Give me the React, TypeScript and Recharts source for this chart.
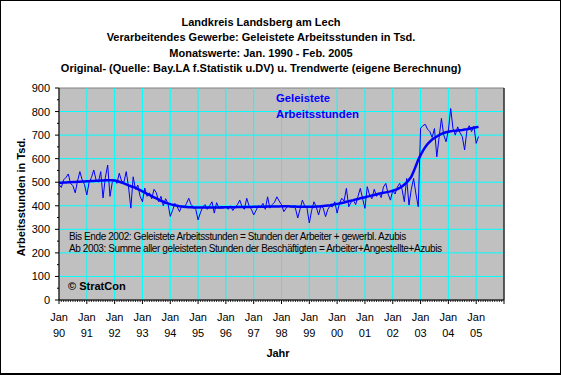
import React from 'react';
import { LineChart, Line, XAxis, YAxis, ReferenceLine, ReferenceArea } from 'recharts';

const titleLines = [
  'Landkreis Landsberg am Lech',
  'Verarbeitendes Gewerbe: Geleistete Arbeitsstunden in Tsd.',
  'Monatswerte: Jan. 1990 - Feb. 2005',
  'Original- (Quelle: Bay.LA f.Statistik u.DV) u. Trendwerte (eigene Berechnung)',
];
const noteLines = [
  'Bis Ende 2002: Geleistete Arbeitsstunden = Stunden der Arbeiter + gewerbl. Azubis',
  'Ab 2003: Summe aller geleisteten Stunden der Beschäftigten = Arbeiter+Angestellte+Azubis',
];
const monthLabel = 'Jan';
const yearLabels = ['90', '91', '92', '93', '94', '95', '96', '97', '98', '99', '00', '01', '02', '03', '04', '05'];
const yTicks = [0, 50, 100, 150, 200, 250, 300, 350, 400, 450, 500, 550, 600, 650, 700, 750, 800, 850, 900];
const gridValues = [100, 200, 300, 400, 500, 600, 700, 800];

// Monthly original values Jan 1990 - Feb 2005 (Tsd. Stunden)
const original = [
  490, 478, 510, 520, 535, 495, 485, 455, 505, 545, 510, 490,
  446, 500, 520, 552, 510, 500, 545, 433, 520, 573, 440, 500,
  510, 495, 538, 505, 500, 545, 480, 390, 523, 470, 488, 440,
  417, 475, 440, 455, 430, 470, 455, 417, 440, 400, 430, 410,
  355, 380, 410, 395, 375, 400, 390, 410, 432, 405, 395, 385,
  340, 370, 395, 405, 385, 400, 417, 369, 413, 390, 390, 390,
  395, 385, 400, 380, 395, 405, 424, 395, 385, 432, 400, 385,
  361, 380, 400, 395, 410, 385, 438, 390, 405, 415, 438, 420,
  405, 375, 390, 400, 395, 395, 390, 348, 385, 424, 400, 390,
  327, 380, 417, 395, 361, 400, 390, 354, 385, 400, 395, 417,
  369, 410, 432, 420, 474, 396, 415, 424, 405, 440, 474, 430,
  389, 481, 445, 430, 470, 440, 455, 435, 480, 495, 450, 424,
  465, 450, 480, 495, 470, 417, 516, 403, 470, 516, 450, 396,
  729, 740, 746, 725, 715, 690, 728, 608, 690, 771, 700, 672,
  720, 813, 728, 700, 735, 710, 694, 637, 720, 740, 715, 738,
  665, 694,
];

// Monthly trend values (own calculation)
const trend = [
  498, 498, 499, 499, 500, 500, 501, 501, 502, 502, 503, 503,
  504, 504, 505, 505, 506, 506, 507, 507, 508, 508, 508, 508,
  507, 505, 502, 498, 495, 491, 487, 483, 480, 476, 471, 466,
  461, 456, 451, 446, 441, 436, 431, 426, 421, 417, 413, 410,
  407, 404, 402, 400, 398, 397, 396, 395, 394, 394, 393, 393,
  393, 393, 393, 393, 393, 393, 393, 393, 393, 393, 394, 394,
  394, 394, 394, 394, 394, 395, 395, 395, 395, 395, 395, 395,
  396, 396, 396, 396, 396, 396, 397, 397, 397, 397, 397, 397,
  398, 398, 398, 398, 397, 397, 397, 396, 396, 396, 396, 396,
  396, 396, 396, 397, 397, 398, 399, 400, 401, 402, 404, 406,
  408, 410, 412, 414, 417, 419, 422, 424, 427, 429, 432, 434,
  436, 439, 441, 444, 446, 449, 451, 453, 455, 457, 459, 461,
  464, 467, 471, 476, 482, 490, 499, 510, 523, 545, 570, 595,
  615, 633, 649, 662, 672, 681, 688, 694, 700, 705, 709, 712,
  714, 716, 718, 719, 720, 721, 722, 724, 725, 727, 729, 731,
  733, 735,
];

const data = original.map((v, i) => ({ m: i, original: v, trend: trend[i] }));
const monthTicks = Array.from({ length: 193 }, (_, i) => i);
const janTicks = yearLabels.map((_, i) => i * 12).filter((v) => v > 0);

const FONT = '"Liberation Sans", Arial, sans-serif';

const XTick = (props: any) => {
  const { x, y, payload } = props;
  const v = payload.value as number;
  if (v % 12 === 0) {
    const idx = v / 12;
    return (
      <g>
        <line x1={x} x2={x} y1={y} y2={y + 4} stroke="#000" />
        {idx < yearLabels.length && (
          <>
            <text x={x} y={y + 21} textAnchor="middle" fontSize={11} fontFamily={FONT} fill="#000">{monthLabel}</text>
            <text x={x} y={y + 37} textAnchor="middle" fontSize={11} fontFamily={FONT} fill="#000">{yearLabels[idx]}</text>
          </>
        )}
      </g>
    );
  }
  return <line x1={x} x2={x} y1={y} y2={y + 2} stroke="#000" strokeWidth={0.8} />;
};

const LeftTick = (props: any) => {
  const { x, y, payload } = props;
  const v = payload.value as number;
  if (v % 100 === 0) {
    return (
      <g>
        <line x1={x - 4} x2={x} y1={y} y2={y} stroke="#000" />
        <text x={x - 9} y={y + 4} textAnchor="end" fontSize={11} fontFamily={FONT} fill="#000">{v}</text>
      </g>
    );
  }
  return <line x1={x - 2} x2={x} y1={y} y2={y} stroke="#000" />;
};

const RightTick = (props: any) => {
  const { x, y, payload } = props;
  const v = payload.value as number;
  if (v % 100 === 0) {
    return (
      <g>
        <line x1={x} x2={x + 4} y1={y} y2={y} stroke="#000" />
        <text x={x + 6} y={y + 4} textAnchor="start" fontSize={11} fontFamily={FONT} fill="#000">{v}</text>
      </g>
    );
  }
  return <line x1={x} x2={x + 2} y1={y} y2={y} stroke="#000" />;
};

const abs = (s: React.CSSProperties): React.CSSProperties => ({ position: 'absolute', whiteSpace: 'nowrap', fontFamily: FONT, ...s });

export default function App() {
  return (
    <div style={{ position: 'absolute', left: 0, top: 0, width: 561, height: 375, background: '#fff', overflow: 'hidden' }}>
      <LineChart width={561} height={375} data={data} margin={{ top: 88, right: 0, bottom: 0, left: 0 }}>
        <XAxis
          dataKey="m"
          type="number"
          domain={[0, 192]}
          ticks={monthTicks}
          interval={0}
          tick={<XTick />}
          tickLine={false}
          tickSize={0}
          tickMargin={0}
          height={75}
          axisLine={{ stroke: '#000' }}
          xAxisId="x"
        />
        <YAxis
          yAxisId="left"
          orientation="left"
          domain={[0, 900]}
          ticks={yTicks}
          interval={0}
          width={59}
          tick={<LeftTick />}
          tickLine={false}
          tickSize={0}
          tickMargin={0}
          axisLine={{ stroke: '#000' }}
        />
        <YAxis
          yAxisId="right"
          orientation="right"
          domain={[0, 900]}
          ticks={yTicks}
          interval={0}
          width={57}
          tick={<RightTick />}
          tickLine={false}
          tickSize={0}
          tickMargin={0}
          axisLine={{ stroke: '#000' }}
        />
        <ReferenceArea xAxisId="x" yAxisId="left" x1={0} x2={192} y1={0} y2={900} fill="#C0C0C0" fillOpacity={1} stroke="#808080" />
        {gridValues.map((g) => (
          <ReferenceLine key={'h' + g} xAxisId="x" yAxisId="left" y={g} stroke="#00FFFF" strokeWidth={1} />
        ))}
        {janTicks.map((t) => (
          <ReferenceLine key={'v' + t} xAxisId="x" yAxisId="left" x={t} stroke="#00FFFF" strokeWidth={1} />
        ))}
        <Line xAxisId="x" yAxisId="left" type="linear" dataKey="original" stroke="#0000FF" strokeWidth={1} dot={false} isAnimationActive={false} />
        <Line xAxisId="x" yAxisId="left" type="linear" dataKey="trend" stroke="#0000FF" strokeWidth={2.5} dot={false} isAnimationActive={false} />
      </LineChart>

      {titleLines.map((t, i) => (
        <div key={t} style={abs({ left: 0, width: 522, top: 15 + i * 15.4, lineHeight: '15px', textAlign: 'center', fontSize: 11, fontWeight: 'bold', color: '#000' })}>{t}</div>
      ))}

      <div style={abs({ left: 276, top: 90, lineHeight: '16px', fontSize: 11.3, fontWeight: 'bold', color: '#0000FF' })}>
        Geleistete<br />Arbeitsstunden
      </div>

      {noteLines.map((t, i) => (
        <div key={t} style={abs({ left: 69, top: 230 + i * 12, lineHeight: '13px', fontSize: 10, letterSpacing: -0.4, color: '#000' })}>{t}</div>
      ))}

      <div style={abs({ left: 68, top: 279, lineHeight: '15px', fontSize: 11, fontWeight: 'bold', color: '#000' })}>© StratCon</div>

      <div style={abs({ left: 248, width: 60, top: 346, lineHeight: '15px', textAlign: 'center', fontSize: 11, fontWeight: 'bold', color: '#000' })}>Jahr</div>

      <div style={abs({ left: 21, top: 197, fontSize: 11, fontWeight: 'bold', color: '#000', transform: 'translate(-50%, -50%) rotate(-90deg)', lineHeight: '14px' })}>Arbeitsstunden in Tsd.</div>

      <div style={{ position: 'absolute', left: 0, top: 0, width: 559, height: 372, border: '1px solid #000', borderRightWidth: 2, borderBottomWidth: 2, pointerEvents: 'none' }} />
    </div>
  );
}
